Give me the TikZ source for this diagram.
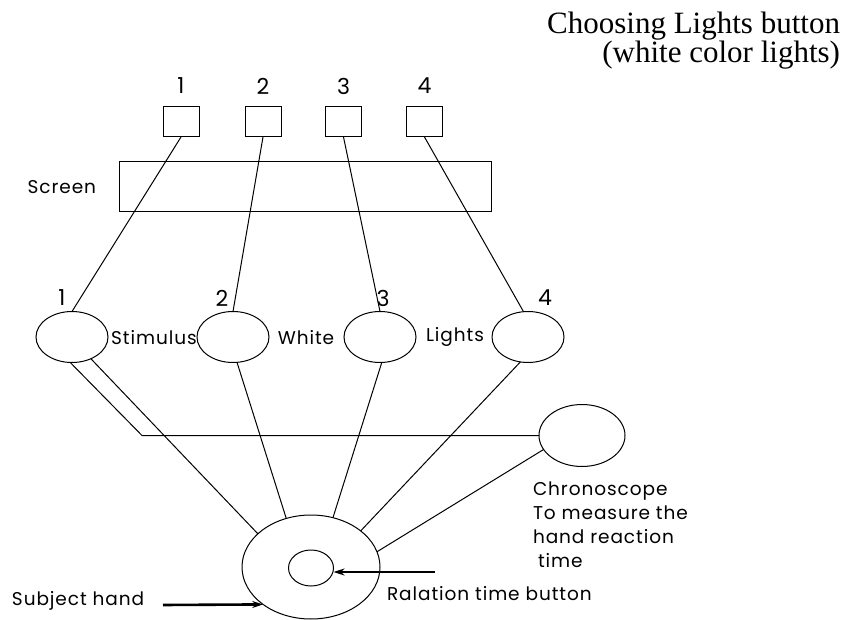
\documentclass[tikz,border=0pt]{standalone}
\usepackage{fontspec}
\setmainfont{Liberation Serif}
\newfontfamily\gothic[LetterSpace=5]{Poppins}
\usetikzlibrary{shapes.geometric,arrows.meta}
\tikzset{
  every node/.style={inner sep=0pt, outer sep=0pt},
  ln/.style={line width=1pt},
  lamp/.style={draw, line width=1pt, minimum width=36pt, minimum height=30pt},
  oval/.style={draw, ellipse, line width=1pt},
  lbl/.style={font=\gothic\fontsize{18.5}{22}\selectfont},
  num/.style={font=\gothic\fontsize{22}{24}\selectfont},
  bigarrow/.style={line width=2.6pt, -{Stealth[length=11pt,width=7pt]}},
}
\begin{document}
\begin{tikzpicture}[x=1pt,y=-1pt]
\useasboundingbox (0,0) rectangle (843,620);
% title
\node[align=right, anchor=base east, font=\fontsize{31}{29}\selectfont] (title) at (840,63)
  {Choosing Lights button\\(white color lights)};
% lamps and numbers
\foreach \i/\x in {1/181,2/263,3/343.5,4/424.5}{
  \node[lamp] (b\i) at (\x,122) {};
  \node[num] (n\i) at (\x,86) {\i};
}
% screen
\node[draw, line width=1pt, minimum width=372pt, minimum height=50pt] (screen) at (305,187) {};
\node[lbl, anchor=east] (screenlbl) at (96,187) {Screen};
% stimulus ellipses
\foreach \i/\x in {1/72,2/233,3/380,4/528}{
  \node[oval, minimum width=72pt, minimum height=51pt] (e\i) at (\x,337) {};
}
\node[num] (m1) at (62,298) {1};
\node[num] (m2) at (222,298) {2};
\node[num] (m3) at (383,298) {3};
\node[num] (m4) at (545,298) {4};
\node[lbl] (stim) at (154,338) {Stimulus};
\node[lbl] (white) at (306,338) {White};
\node[lbl] (lights) at (455,337) {Lights};
% chronoscope
\node[oval, minimum width=86pt, minimum height=62pt] (chrono) at (582,435.5) {};
\node[align=left, anchor=base west, font=\gothic\fontsize{18.5}{23.7}\selectfont] (chronolbl) at (533,567)
  {Chronoscope\\To measure the\\hand reaction\\\hspace*{5pt}time};
% hand
\node[oval, minimum width=138pt, minimum height=104pt] (hand) at (311,567) {};
\node[oval, minimum width=45pt, minimum height=36pt] (btn) at (311,568) {};
\node[lbl, anchor=base west] (btnlbl) at (387,600) {Ralation time button};
\node[lbl, anchor=base west] (handlbl) at (12,605) {Subject hand};
% connectors lamps -> ellipses
\draw[ln] (b1.south) -- (e1.north);
\draw[ln] (b2.south) -- (e2.north);
\draw[ln] (b3.south) -- (e3.north);
\draw[ln] (b4.south) -- (e4.100);
% ellipses -> hand
\coordinate (k) at (142,435.5);
\draw[ln] (e1.266) -- (k) -- (chrono.west);
\draw[ln] (e1.311) -- (hand.148);
\draw[ln] (e2.279) -- (hand.117);
\draw[ln] (e3.274) -- (hand.66);
\draw[ln] (e4.253) -- (hand.36);
\draw[ln] (chrono.200) -- (hand.13);
% arrows
\coordinate (a1) at (435,572);
\draw[bigarrow] (a1) -- (btn.east |- a1);
\coordinate (a2) at (163,605);
\draw[bigarrow] (a2) -- (hand.218);
\end{tikzpicture}
\end{document}
